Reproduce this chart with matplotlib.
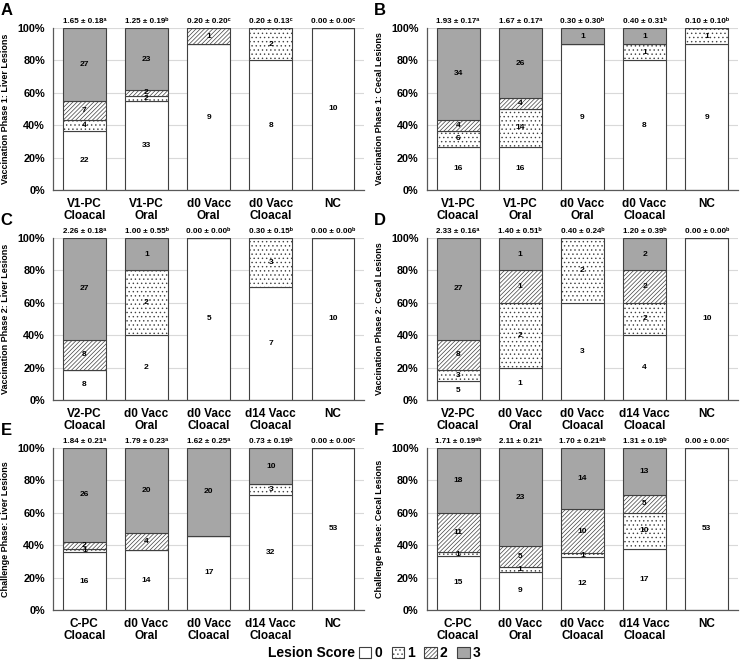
import matplotlib.pyplot as plt
from matplotlib.patches import Patch

plt.rcParams['font.family'] = ['Liberation Sans', 'DejaVu Sans']
plt.rcParams['font.weight'] = 'bold'
plt.rcParams['hatch.linewidth'] = 0.5

# lesion score legend
score_names = ['0', '1', '2', '3']
score_colors = ['white', 'white', 'white', '#a6a6a6']
score_hatches = [None, '....', '////////', None]

groups_ab = ['V1-PC\nCloacal', 'V1-PC\nOral', 'd0 Vacc\nOral', 'd0 Vacc\nCloacal', 'NC']
groups_cd = ['V2-PC\nCloacal', 'd0 Vacc\nOral', 'd0 Vacc\nCloacal', 'd14 Vacc\nCloacal', 'NC']
groups_ef = ['C-PC\nCloacal', 'd0 Vacc\nOral', 'd0 Vacc\nCloacal', 'd14 Vacc\nCloacal', 'NC']

# number of birds with lesion score 0, 1, 2, 3 (one row per group)
counts_a = [[22, 4, 7, 27], [33, 2, 2, 23], [9, 0, 1, 0], [8, 2, 0, 0], [10, 0, 0, 0]]
counts_b = [[16, 6, 4, 34], [16, 14, 4, 26], [9, 0, 0, 1], [8, 1, 0, 1], [9, 1, 0, 0]]
counts_c = [[8, 0, 8, 27], [2, 2, 0, 1], [5, 0, 0, 0], [7, 3, 0, 0], [10, 0, 0, 0]]
counts_d = [[5, 3, 8, 27], [1, 2, 1, 1], [3, 2, 0, 0], [4, 2, 2, 2], [10, 0, 0, 0]]
counts_e = [[16, 1, 2, 26], [14, 0, 4, 20], [17, 0, 0, 20], [32, 3, 0, 10], [53, 0, 0, 0]]
counts_f = [[15, 1, 11, 18], [9, 1, 5, 23], [12, 1, 10, 14], [17, 10, 5, 13], [53, 0, 0, 0]]

# mean lesion score ± SEM with letters
stats_a = ['1.65 ± 0.18ᵃ', '1.25 ± 0.19ᵇ', '0.20 ± 0.20ᶜ', '0.20 ± 0.13ᶜ', '0.00 ± 0.00ᶜ']
stats_b = ['1.93 ± 0.17ᵃ', '1.67 ± 0.17ᵃ', '0.30 ± 0.30ᵇ', '0.40 ± 0.31ᵇ', '0.10 ± 0.10ᵇ']
stats_c = ['2.26 ± 0.18ᵃ', '1.00 ± 0.55ᵇ', '0.00 ± 0.00ᵇ', '0.30 ± 0.15ᵇ', '0.00 ± 0.00ᵇ']
stats_d = ['2.33 ± 0.16ᵃ', '1.40 ± 0.51ᵇ', '0.40 ± 0.24ᵇ', '1.20 ± 0.39ᵇ', '0.00 ± 0.00ᵇ']
stats_e = ['1.84 ± 0.21ᵃ', '1.79 ± 0.23ᵃ', '1.62 ± 0.25ᵃ', '0.73 ± 0.19ᵇ', '0.00 ± 0.00ᶜ']
stats_f = ['1.71 ± 0.19ᵃᵇ', '2.11 ± 0.21ᵃ', '1.70 ± 0.21ᵃᵇ', '1.31 ± 0.19ᵇ', '0.00 ± 0.00ᶜ']

panels = [
    ('A', groups_ab, counts_a, stats_a, 'Vaccination Phase 1: Liver Lesions'),
    ('B', groups_ab, counts_b, stats_b, 'Vaccination Phase 1: Cecal Lesions'),
    ('C', groups_cd, counts_c, stats_c, 'Vaccination Phase 2: Liver Lesions'),
    ('D', groups_cd, counts_d, stats_d, 'Vaccination Phase 2: Cecal Lesions'),
    ('E', groups_ef, counts_e, stats_e, 'Challenge Phase: Liver Lesions'),
    ('F', groups_ef, counts_f, stats_f, 'Challenge Phase: Cecal Lesions'),
]

fig = plt.figure(figsize=(7.4, 6.61), dpi=100)
lefts = [0.072, 0.577]
bottoms = [0.7126, 0.3949, 0.0772]
edge = '#404040'

for i, (letter, groups, counts, stats, ylab) in enumerate(panels):
    ax = fig.add_axes([lefts[i % 2], bottoms[i // 2], 0.42, 0.245])
    x = list(range(len(groups)))
    bottom = [0.0] * len(groups)
    for s in range(4):
        pct = [c[s] / sum(c) * 100 for c in counts]
        ax.bar(x, pct, 0.69, bottom=bottom, color=score_colors[s], hatch=score_hatches[s],
               edgecolor=edge, linewidth=0.8, zorder=2)
        for j in x:
            if counts[j][s] > 0:
                ax.text(j, bottom[j] + pct[j] / 2, str(counts[j][s]), ha='center', va='center',
                        fontsize=6, fontweight='bold', zorder=3)
        bottom = [b + p for b, p in zip(bottom, pct)]
    for j in x:
        ax.text(j, 102, stats[j], ha='center', va='bottom', fontsize=5.8, fontweight='bold',
                clip_on=False)

    ax.set_xlim(-0.5, len(groups) - 0.5)
    ax.set_ylim(0, 100)
    ax.set_yticks([0, 20, 40, 60, 80, 100])
    ax.set_yticklabels([f'{v}%' for v in [0, 20, 40, 60, 80, 100]], fontsize=7.8, fontweight='bold')
    ax.set_xticks(x)
    ax.set_xticklabels(groups, fontsize=8.5, fontweight='bold', linespacing=1.0)
    ax.tick_params(length=0, pad=6)
    ax.tick_params(axis='x', pad=6)
    ax.yaxis.grid(True, color='#d9d9d9', linewidth=0.8, zorder=0)
    ax.set_axisbelow(True)
    for side in ['top', 'right']:
        ax.spines[side].set_visible(False)
    for side in ['left', 'bottom']:
        ax.spines[side].set_color('#595959')
        ax.spines[side].set_linewidth(0.9)
    ax.set_ylabel(ylab, fontsize=6.5, fontweight='bold')
    ax.yaxis.set_label_coords(-0.138, 0.5)
    ax.text(-0.17, 1.155, letter, transform=ax.transAxes, fontsize=12, fontweight='bold',
            ha='left', va='top')

handles = [Patch(facecolor=score_colors[s], hatch=score_hatches[s], edgecolor=edge, linewidth=0.8)
           for s in range(4)]
fig.text(0.48, 0.012, 'Lesion Score', ha='right', va='center', fontsize=10, fontweight='bold')
fig.legend(handles, score_names, loc='center left', bbox_to_anchor=(0.485, 0.012), ncol=4,
           frameon=False, handlelength=0.9, handleheight=0.9, handletextpad=0.2,
           columnspacing=0.7, prop={'size': 10, 'weight': 'bold'}, borderpad=0, borderaxespad=0)

plt.savefig('out.png', dpi=100)
